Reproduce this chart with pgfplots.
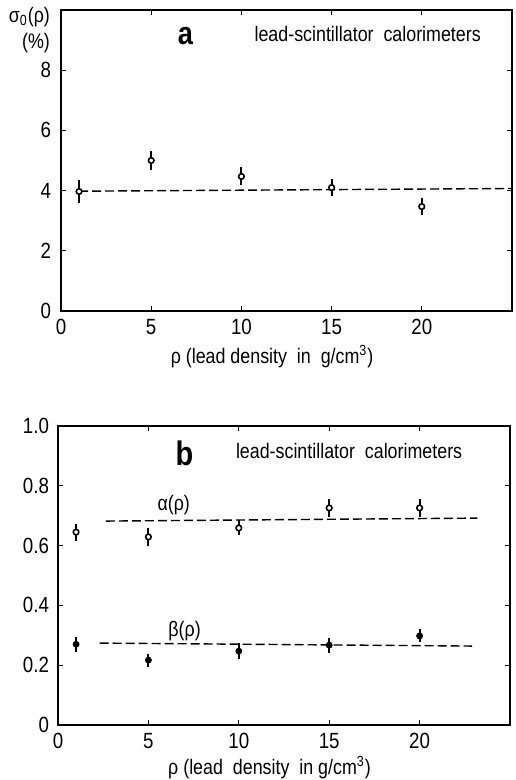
\documentclass[border=0pt]{standalone}
\usepackage{fontspec}
\setmainfont{Liberation Sans}[FakeStretch=0.85]
\usepackage{pgfplots}
\pgfplotsset{compat=1.18}
\pgfplotsset{
  panel/.style={
    scale only axis,
    xmin=0, xmax=25,
    xtick={0,5,10,15,20},
    tick align=inside,
    major tick length=2.5pt,
    axis line style={line width=0.8pt},
    every tick/.style={line width=0.6pt, black},
    ticklabel style={font=\fontsize{11}{12}\selectfont},
    xticklabel style={yshift=-0.5pt},
    yticklabel style={xshift=-1.5pt},
    /pgf/number format/assume math mode=true,
    clip=false,
  },
  openpts/.style={black, only marks, mark=*, mark size=1.4pt,
    mark options={line width=0.8pt, fill=white, draw=black},
    error bars/.cd, y dir=both, y explicit, error mark=none,
    error bar style={line width=1pt}},
  filledpts/.style={black, only marks, mark=*, mark size=1.5pt,
    mark options={fill=black, draw=black},
    error bars/.cd, y dir=both, y explicit, error mark=none,
    error bar style={line width=1pt}},
  fitline/.style={black, line width=0.7pt, dash pattern=on 4.5pt off 2pt, no marks},
}
\begin{document}
\begin{tikzpicture}
\useasboundingbox (-30.5pt,-234.5pt) rectangle (227pt,155.5pt);
% ---------------- panel a
\begin{axis}[panel,
  at={(0pt,0pt)}, anchor=south west,
  width=225.5pt, height=150.5pt,
  ymin=0, ymax=10,
  ytick={0,2,4,6,8},
  yticklabels={0,2,4,6,8},
]
\addplot[fitline] coordinates {(1,3.98) (25,4.07)};
\addplot[openpts] coordinates {
  (1,3.97) +- (0,0.37)
  (5,5.00) +- (0,0.33)
  (10,4.47) +- (0,0.30)
  (15,4.10) +- (0,0.28)
  (20,3.47) +- (0,0.27)
};
\node[font=\fontsize{16}{16}\selectfont\bfseries] at (axis cs:6.9,9.13) {a};
\node[font=\fontsize{10.5}{11}\selectfont] at (axis cs:17.0,9.2) {lead-scintillator\ \ calorimeters};
\node[anchor=east, font=\fontsize{10.5}{11}\selectfont] at ([xshift=-2pt,yshift=-3.5pt]rel axis cs:0,1) {σ\textsubscript{0}(ρ)};
\node[anchor=east, font=\fontsize{10.5}{11}\selectfont] at ([xshift=-2pt,yshift=-16.5pt]rel axis cs:0,1) {(\%)};
\node[font=\fontsize{10.5}{11}\selectfont] at ([yshift=-23pt]axis cs:11.7,0) {ρ (lead density\ \ in\ \ g/cm\textsuperscript{3})};
\end{axis}
% ---------------- panel b
\begin{axis}[panel,
  at={(-1.5pt,-207pt)}, anchor=south west,
  width=226pt, height=149.5pt,
  ymin=0, ymax=1.0,
  ytick={0,0.2,0.4,0.6,0.8,1.0},
  yticklabels={0,0.2,0.4,0.6,0.8,1.0},
  yticklabel style={xshift=0.5pt},
]
\addplot[fitline] coordinates {(2.65,0.682) (23.2,0.692)};
\addplot[fitline] coordinates {(2.3,0.274) (22.9,0.264)};
\addplot[openpts] coordinates {
  (1,0.645) +- (0,0.028)
  (5,0.629) +- (0,0.030)
  (10,0.659) +- (0,0.025)
  (15,0.726) +- (0,0.030)
  (20,0.726) +- (0,0.030)
};
\addplot[filledpts] coordinates {
  (1,0.270) +- (0,0.025)
  (5,0.217) +- (0,0.022)
  (10,0.247) +- (0,0.027)
  (15,0.267) +- (0,0.025)
  (20,0.298) +- (0,0.022)
};
\node[font=\fontsize{17}{17}\selectfont\bfseries] at (axis cs:7.0,0.91) {b};
\node[font=\fontsize{10.5}{11}\selectfont] at (axis cs:16.1,0.915) {lead-scintillator\ \ calorimeters};
\node[font=\fontsize{10.5}{11}\selectfont] at (axis cs:6.4,0.735) {α(ρ)};
\node[font=\fontsize{10.5}{11}\selectfont] at (axis cs:7.0,0.315) {β(ρ)};
\node[font=\fontsize{10.5}{11}\selectfont] at ([yshift=-21.5pt]axis cs:11.7,0) {ρ (lead\ \ density\ \ in g/cm\textsuperscript{3})};
\end{axis}
\end{tikzpicture}
\end{document}
